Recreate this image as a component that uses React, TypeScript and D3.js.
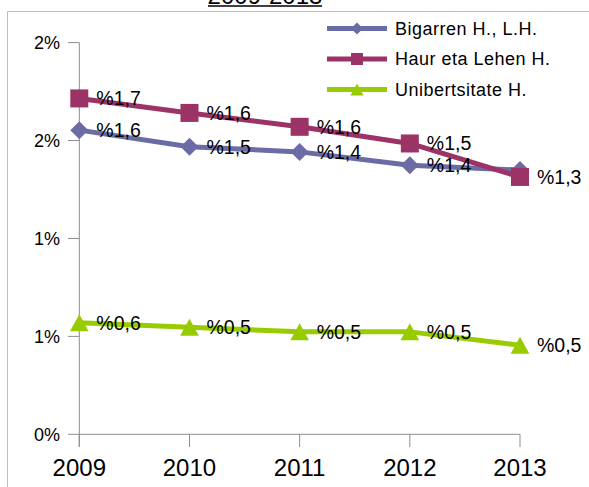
import React from "react";
import * as d3 from "d3";

const years = ["2009", "2010", "2011", "2012", "2013"];
const seriesNames = ["Bigarren H., L.H.", "Haur eta Lehen H.", "Unibertsitate H."];
const bigarren = [1.553, 1.468, 1.442, 1.374, 1.349];
const haur = [1.715, 1.641, 1.57, 1.485, 1.314];
const uni = [0.569, 0.547, 0.523, 0.523, 0.455];
const labelsBigarren = ["%1,6", "%1,5", "%1,4", "%1,4", ""];
const labelsHaur = ["%1,7", "%1,6", "%1,6", "%1,5", "%1,3"];
const labelsUni = ["%0,6", "%0,5", "%0,5", "%0,5", "%0,5"];
const yTicks = [0, 0.5, 1, 1.5, 2];
const yTickLabels = ["0%", "1%", "1%", "2%", "2%"];
const title = "2009-2013";

const colors = ["#6B6BA5", "#9C3366", "#99CC00"];
const shapes = ["diamond", "square", "triangle"];

const W = 589;
const H = 487;

function Marker({ shape, x, y, s, color }: { shape: string; x: number; y: number; s: number; color: string }) {
  if (shape === "diamond") {
    const h = s / 2;
    return <polygon points={`${x},${y - h} ${x + h},${y} ${x},${y + h} ${x - h},${y}`} fill={color} />;
  }
  if (shape === "square") {
    const h = s / 2;
    return <rect x={x - h} y={y - h} width={s} height={s} fill={color} />;
  }
  const h = s / 2;
  return <polygon points={`${x},${y - h} ${x + h * 1.1},${y + h} ${x - h * 1.1},${y + h}`} fill={color} />;
}

export default function App() {
  const x = d3.scalePoint<string>().domain(years).range([79.3, 520]);
  const y = d3.scaleLinear().domain([0, 2]).range([434.3, 42.6]);
  const series = [bigarren, haur, uni];
  const labels = [labelsBigarren, labelsHaur, labelsUni];
  const line = d3
    .line<number>()
    .x((_, i) => x(years[i]) as number)
    .y((d) => y(d));
  const font = "'Liberation Sans', Arial, sans-serif";
  const axisColor = "#8c8c8c";
  const x0 = x(years[0]) as number;
  const xN = x(years[years.length - 1]) as number;
  const legendX1 = 327;
  const legendX2 = 387;
  const legendTop = 28.5;
  const legendStep = 30.5;

  return (
    <svg width={W} height={H} style={{ position: "absolute", left: 0, top: 0, background: "#fff" }} fontFamily={font}>
      <rect x={0} y={0} width={W} height={H} fill="#fff" />
      {/* title (cut off at the top, as in the reference) */}
      <text x={265} y={4} textAnchor="middle" fontSize={24} fill="#000">
        {title}
      </text>
      <line x1={208} x2={322} y1={6} y2={6} stroke="#000" strokeWidth={1.5} />
      {/* outer border */}
      <path d={`M7.5,${H + 2} V11.5 H${W + 2}`} fill="none" stroke="#bdbdbd" strokeWidth={1} />

      {/* y axis */}
      <line x1={x0} x2={x0} y1={y(2)} y2={447} stroke={axisColor} strokeWidth={1} />
      {yTicks.map((t, i) => (
        <g key={i}>
          <line x1={68} x2={x0} y1={y(t)} y2={y(t)} stroke={axisColor} strokeWidth={1} />
          <text x={60} y={y(t)} dy="0.36em" textAnchor="end" fontSize={18} fill="#000">
            {yTickLabels[i]}
          </text>
        </g>
      ))}
      {/* x axis */}
      <line x1={x0} x2={xN} y1={y(0)} y2={y(0)} stroke={axisColor} strokeWidth={1} />
      {years.map((yr) => (
        <g key={yr}>
          <line x1={x(yr)} x2={x(yr)} y1={y(0)} y2={447} stroke={axisColor} strokeWidth={1} />
          <text x={x(yr)} y={476} textAnchor="middle" fontSize={24} fill="#000">
            {yr}
          </text>
        </g>
      ))}

      {/* series */}
      {series.map((vals, si) => (
        <g key={si}>
          <path d={line(vals) || ""} fill="none" stroke={colors[si]} strokeWidth={5} strokeLinejoin="round" />
        </g>
      ))}
      {series.map((vals, si) => (
        <g key={"m" + si}>
          {vals.map((v, i) => (
            <Marker key={i} shape={shapes[si]} x={x(years[i]) as number} y={y(v)} s={si === 2 ? 17 : 18} color={colors[si]} />
          ))}
        </g>
      ))}
      {series.map((vals, si) => (
        <g key={"l" + si}>
          {vals.map((v, i) => (
            <text key={i} x={(x(years[i]) as number) + 17} y={y(v)} dy="0.36em" fontSize={19.5} fill="#000">
              {labels[si][i]}
            </text>
          ))}
        </g>
      ))}

      {/* legend */}
      {seriesNames.map((name, si) => {
        const ly = legendTop + si * legendStep;
        return (
          <g key={"lg" + si}>
            <line x1={legendX1} x2={legendX2} y1={ly} y2={ly} stroke={colors[si]} strokeWidth={5} />
            <Marker shape={shapes[si]} x={(legendX1 + legendX2) / 2} y={ly} s={12} color={colors[si]} />
            <text x={395} y={ly} dy="0.36em" fontSize={18} letterSpacing={0.5} fill="#000">
              {name}
            </text>
          </g>
        );
      })}
    </svg>
  );
}
